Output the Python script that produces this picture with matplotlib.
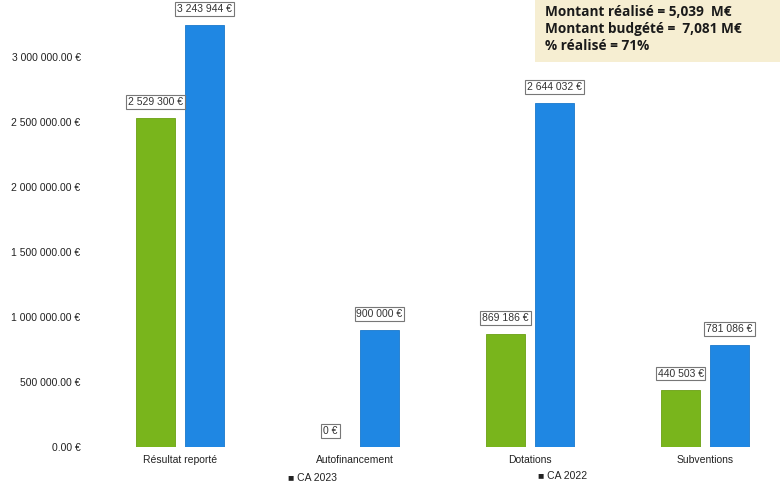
import matplotlib
matplotlib.use("Agg")
import matplotlib.pyplot as plt
import matplotlib.ticker as mticker
import numpy as np

# data
categories = ["Résultat reporté", "Autofinancement", "Dotations", "Subventions"]
ca_2023 = [2529300, 0, 869186, 440503]
ca_2022 = [3243944, 900000, 2644032, 781086]
labels_2023 = ["2 529 300 €", "0 €", "869 186 €", "440 503 €"]
labels_2022 = ["3 243 944 €", "900 000 €", "2 644 032 €", "781 086 €"]
series_names = ["CA 2023", "CA 2022"]
y_ticks = [0, 500000, 1000000, 1500000, 2000000, 2500000, 3000000]
info_lines = ["Montant réalisé = 5,039  M€", "Montant budgété =  7,081 M€", "% réalisé = 71%"]

green = "#79b51c"
blue = "#1f87e3"

plt.rcParams['font.family'] = ['Liberation Sans', 'DejaVu Sans']

fig = plt.figure(figsize=(7.8, 4.84), dpi=100)
ax = fig.add_axes([100/780, 37/484, 680/780, 447/484])

x = np.arange(len(categories))
w = 0.223
off = 0.14
b1 = ax.bar(x - off, ca_2023, w, color=green, edgecolor="#6aa012", linewidth=0.6)
b2 = ax.bar(x + off, ca_2022, w, color=blue, edgecolor="#1a78cc", linewidth=0.6)

ax.set_xlim(-80/175, 3 + 75/175)
ax.set_ylim(0, 447/130*1e6)

box = dict(boxstyle="square,pad=0.18", fc="white", ec="#777777", lw=0.8)
for bars, vals, labs in [(b1, ca_2023, labels_2023), (b2, ca_2022, labels_2022)]:
    for rect, v, lab in zip(bars, vals, labs):
        ax.annotate(lab, (rect.get_x() + rect.get_width()/2, v), xytext=(0, 8),
                    textcoords="offset points", ha="center", va="bottom",
                    fontsize=7.5, color="#333333", bbox=box)

ax.set_yticks(y_ticks)
ax.yaxis.set_major_formatter(mticker.FuncFormatter(
    lambda v, p: "{:,.2f} €".format(v).replace(",", " ")))
ax.set_xticks(x)
ax.set_xticklabels(categories)
ax.tick_params(axis="both", length=0, labelsize=7.5, colors="#222222")
ax.tick_params(axis="y", pad=14)
ax.tick_params(axis="x", pad=6)
for s in ax.spines.values():
    s.set_visible(False)

# legend like the original: dark squares with series names
fig.text(288/780, 1 - 478/484, "■ " + series_names[0], fontsize=7.5, color="#222222", va="center")
fig.text(538/780, 1 - 476/484, "■ " + series_names[1], fontsize=7.5, color="#222222", va="center")

# info box top right
fig.patches.append(plt.Rectangle((535/780, 1 - 62/484), 245/780, 62/484,
                                 transform=fig.transFigure, fc="#f6eed2", ec="none"))
for i, line in enumerate(info_lines):
    fig.text(545/780, 1 - (12 + i*17)/484, line, fontsize=9.8, fontweight="bold",
             color="#1a1a1a", va="center", family=["Open Sans", "DejaVu Sans"])

plt.savefig("out.png")
